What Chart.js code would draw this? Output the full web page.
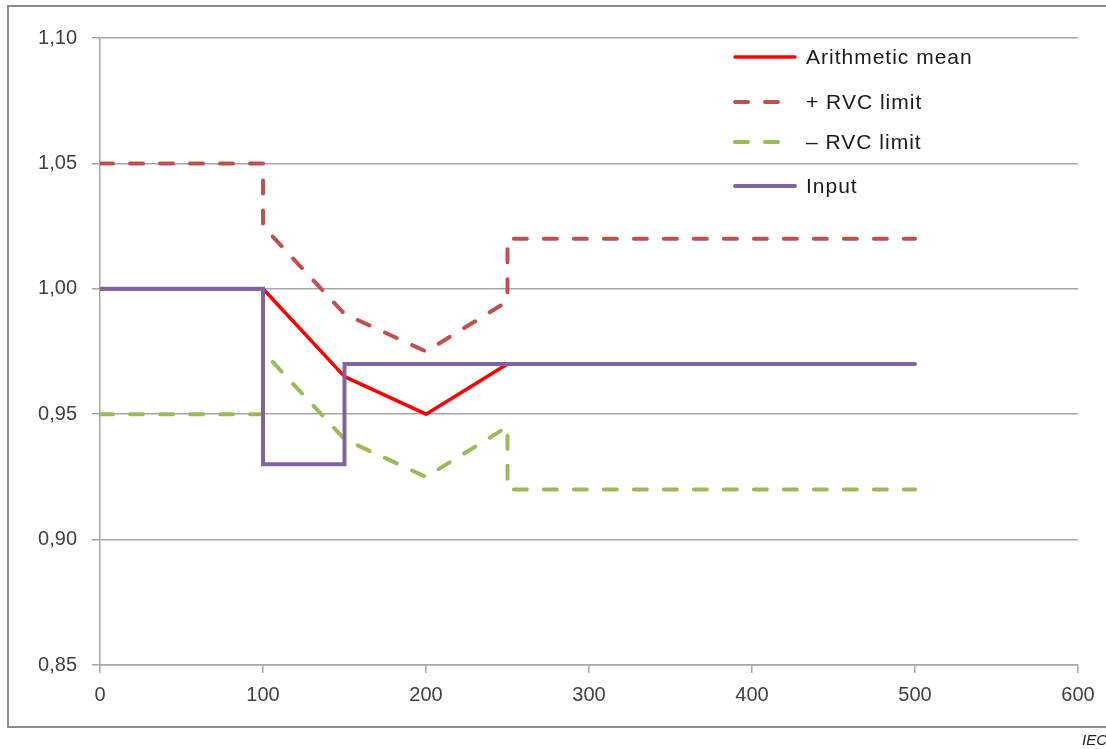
<!DOCTYPE html>
<html>
<head>
<meta charset="utf-8">
<script src="https://cdn.jsdelivr.net/npm/chart.js@4/dist/chart.umd.min.js"></script>
<style>
  html, body { margin: 0; padding: 0; background: #ffffff; }
  #wrap { width: 1106px; height: 749px; position: relative; }
</style>
</head>
<body>
<div id="wrap"><canvas id="c" width="1106" height="749"></canvas></div>
<script>
// Time axis (x) and per-unit values (y) for each trace
const meanX  = [0, 100, 150, 200, 250, 300];
const meanY  = [1.00, 1.00, 0.965, 0.95, 0.97, 0.97];

const upperX = [0, 100, 100, 150, 200, 250, 250, 500];
const upperY = [1.05, 1.05, 1.025, 0.99, 0.975, 0.995, 1.02, 1.02];

const lowerX = [0, 100, 100, 150, 200, 250, 250, 500];
const lowerY = [0.95, 0.95, 0.975, 0.94, 0.925, 0.945, 0.92, 0.92];

const inputX = [0, 100, 100, 150, 150, 500];
const inputY = [1.00, 1.00, 0.93, 0.93, 0.97, 0.97];

const seriesLabels = ['Arithmetic mean', '+ RVC limit', '\u2013 RVC limit', 'Input'];

const xTicks = [0, 100, 200, 300, 400, 500, 600];
const yTicks = [0.85, 0.90, 0.95, 1.00, 1.05, 1.10];

const toPoints = (xs, ys) => xs.map((x, i) => ({ x: x, y: ys[i] }));

const GRID = '#a6a6a6';
const TEXT = '#404040';
const FONT = '"Liberation Sans", Arial, sans-serif';

// Frame around the whole figure plus the small source tag
const framePlugin = {
  id: 'frame',
  beforeDraw(chart) {
    const ctx = chart.ctx;
    ctx.save();
    ctx.fillStyle = '#ffffff';
    ctx.fillRect(0, 0, chart.width, chart.height);
    ctx.strokeStyle = '#8c8c8c';
    ctx.lineWidth = 2;
    ctx.strokeRect(8, 6, 1110, 721);
    ctx.fillStyle = '#222222';
    ctx.font = 'italic 15px ' + FONT;
    ctx.textBaseline = 'middle';
    ctx.fillText('IEC', 1082, 741);
    ctx.restore();
  }
};

// Legend drawn inside the plot area, rows spaced as in the figure
const legendRows = [57, 102, 142, 186];
const legendPlugin = {
  id: 'innerLegend',
  afterDraw(chart) {
    const ctx = chart.ctx;
    ctx.save();
    chart.data.datasets.forEach((ds, i) => {
      const y = legendRows[i];
      ctx.beginPath();
      ctx.strokeStyle = ds.borderColor;
      ctx.lineWidth = ds.borderWidth;
      ctx.lineCap = ds.borderCapStyle || 'butt';
      ctx.setLineDash(ds.borderDash || []);
      ctx.moveTo(735, y);
      ctx.lineTo(ds.borderDash && ds.borderDash.length ? 782 : 795, y);
      ctx.stroke();
      ctx.setLineDash([]);
      ctx.fillStyle = '#1a1a1a';
      ctx.font = '21px ' + FONT;
      if ('letterSpacing' in ctx) ctx.letterSpacing = '1px';
      ctx.textBaseline = 'middle';
      ctx.fillText(ds.label, 806, y + 1);
    });
    ctx.restore();
  }
};

new Chart(document.getElementById('c'), {
  type: 'line',
  data: {
    datasets: [
      {
        label: seriesLabels[0],
        data: toPoints(meanX, meanY),
        borderColor: '#ff0000',
        borderWidth: 3.5,
        borderCapStyle: 'round',
        borderJoinStyle: 'round',
        order: 1
      },
      {
        label: seriesLabels[1],
        data: toPoints(upperX, upperY),
        borderColor: '#c0504d',
        borderWidth: 4,
        borderDash: [13, 17],
        borderCapStyle: 'round',
        borderJoinStyle: 'round',
        order: 2
      },
      {
        label: seriesLabels[2],
        data: toPoints(lowerX, lowerY),
        borderColor: '#9bbb59',
        borderWidth: 4,
        borderDash: [13, 17],
        borderCapStyle: 'round',
        borderJoinStyle: 'round',
        order: 3
      },
      {
        label: seriesLabels[3],
        data: toPoints(inputX, inputY),
        borderColor: '#8064a2',
        borderWidth: 4,
        borderCapStyle: 'round',
        borderJoinStyle: 'miter',
        order: 0
      }
    ]
  },
  options: {
    responsive: false,
    animation: false,
    events: [],
    layout: { padding: { left: 0, top: 38, right: 28, bottom: 0 } },
    elements: {
      point: { radius: 0, hoverRadius: 0 },
      line: { tension: 0, fill: false }
    },
    plugins: {
      legend: { display: false },
      tooltip: { enabled: false },
      title: { display: false }
    },
    scales: {
      x: {
        type: 'linear',
        min: 0,
        max: 600,
        afterBuildTicks(scale) { scale.ticks = xTicks.map(v => ({ value: v })); },
        afterFit(scale) { scale.height = 84; },
        grid: {
          drawOnChartArea: false,
          drawTicks: true,
          tickLength: 8,
          color: GRID,
          lineWidth: 1.5
        },
        border: { display: true, color: GRID, width: 1.5 },
        ticks: {
          padding: 10,
          color: TEXT,
          font: { family: FONT, size: 20 },
          maxRotation: 0,
          callback: v => String(v)
        }
      },
      y: {
        type: 'linear',
        min: 0.85,
        max: 1.10,
        afterBuildTicks(scale) { scale.ticks = yTicks.map(v => ({ value: v })); },
        afterFit(scale) { scale.width = 100; },
        grid: {
          drawOnChartArea: true,
          drawTicks: true,
          tickLength: 8,
          color: GRID,
          lineWidth: 1.5
        },
        border: { display: true, color: GRID, width: 1.5 },
        ticks: {
          padding: 15,
          color: TEXT,
          font: { family: FONT, size: 20 },
          callback: v => v.toFixed(2).replace('.', ',')
        }
      }
    }
  },
  plugins: [framePlugin, legendPlugin]
});
</script>
</body>
</html>
